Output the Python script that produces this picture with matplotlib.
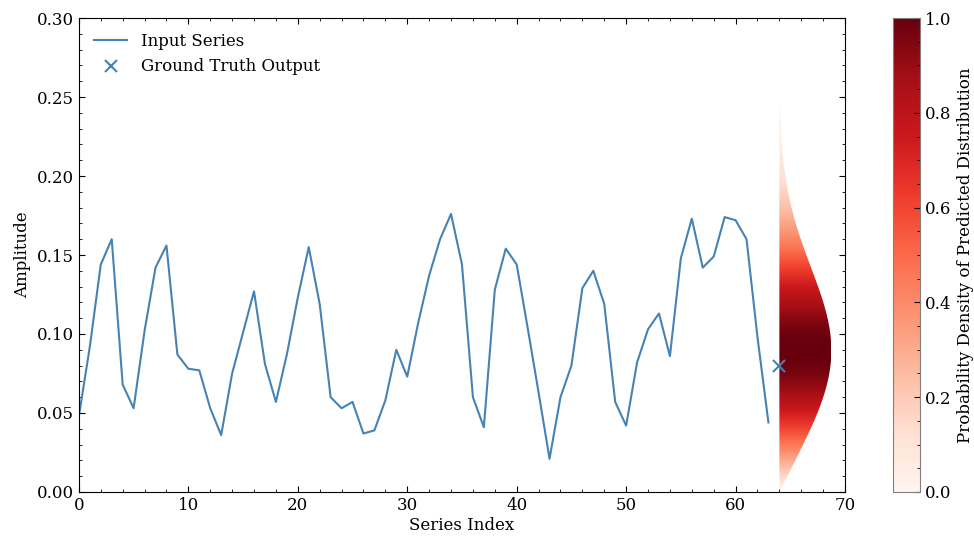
import numpy as np
import matplotlib
matplotlib.use("Agg")
import matplotlib.pyplot as plt
from matplotlib.patches import Polygon

# serie de entrada (amplitud por indice)
serie = [0.048, 0.092, 0.144, 0.160, 0.068, 0.053, 0.102, 0.142, 0.156, 0.087,
         0.078, 0.077, 0.053, 0.036, 0.075, 0.101, 0.127, 0.081, 0.057, 0.087,
         0.123, 0.155, 0.119, 0.060, 0.053, 0.057, 0.037, 0.039, 0.058, 0.090,
         0.073, 0.107, 0.137, 0.160, 0.176, 0.144, 0.060, 0.041, 0.128, 0.154,
         0.144, 0.104, 0.063, 0.021, 0.060, 0.080, 0.129, 0.140, 0.119, 0.057,
         0.042, 0.082, 0.103, 0.113, 0.086, 0.148, 0.173, 0.142, 0.149, 0.174,
         0.172, 0.160, 0.098, 0.044]
indices = np.arange(len(serie))

# salida real
x_real = 64
y_real = 0.080

# distribucion predicha (amplitud tipo Rice)
nu = 0.076
sigma = 0.055
y_min, y_max = 0.0, 0.244
ancho_max = 4.75

plt.rcParams.update({
    "font.family": "DejaVu Serif",
    "font.size": 12,
    "xtick.direction": "in",
    "ytick.direction": "in",
    "xtick.top": True,
    "ytick.right": True,
    "xtick.minor.visible": True,
    "ytick.minor.visible": True,
    "xtick.major.size": 4,
    "ytick.major.size": 4,
    "xtick.minor.size": 2,
    "ytick.minor.size": 2,
})

fig = plt.figure(figsize=(9.74, 5.41), dpi=100)
ax = fig.add_axes([0.081, 0.0906, 0.7866, 0.8761])
cax = fig.add_axes([0.9168, 0.0906, 0.0278, 0.8761])

ax.plot(indices, serie, color="steelblue", lw=1.5, label="Input Series")

# densidad normalizada
yy = np.linspace(y_min, y_max, 600)
dens = yy / sigma**2 * np.exp(-(yy**2 + nu**2) / (2 * sigma**2)) * np.i0(yy * nu / sigma**2)
dens = dens / dens.max()

borde = np.column_stack([x_real + dens * ancho_max, yy])
verts = np.vstack([[[x_real, y_min]], borde, [[x_real, y_max]]])
clip = Polygon(verts, closed=True, facecolor="none", edgecolor="none")
ax.add_patch(clip)

img = ax.imshow(dens[:, None], origin="lower", aspect="auto", cmap="Reds",
                vmin=0, vmax=1, extent=[x_real, x_real + ancho_max, y_min, y_max],
                interpolation="bilinear", zorder=1)
img.set_clip_path(clip)

ax.plot([x_real], [y_real], "x", color="steelblue", ms=8, mew=1.5,
        ls="none", label="Ground Truth Output", zorder=3)

ax.set_xlim(0, 70)
ax.set_ylim(0, 0.30)
ax.set_xticks(np.arange(0, 71, 10))
ax.set_xticks(np.arange(0, 71, 2), minor=True)
ax.set_yticks(np.arange(0, 0.301, 0.05))
ax.set_yticks(np.arange(0, 0.301, 0.01), minor=True)
ax.set_xlabel("Series Index", labelpad=2)
ax.set_ylabel("Amplitude")
ax.legend(loc="upper left", frameon=False)

cb = fig.colorbar(img, cax=cax)
cb.set_ticks(np.arange(0, 1.01, 0.2))
cb.ax.yaxis.set_minor_locator(matplotlib.ticker.MultipleLocator(0.05))
cb.ax.tick_params(which="both", direction="in")
cb.set_label("Probability Density of Predicted Distribution")
cb.outline.set_edgecolor("grey")

fig.savefig("out.png", dpi=100)
